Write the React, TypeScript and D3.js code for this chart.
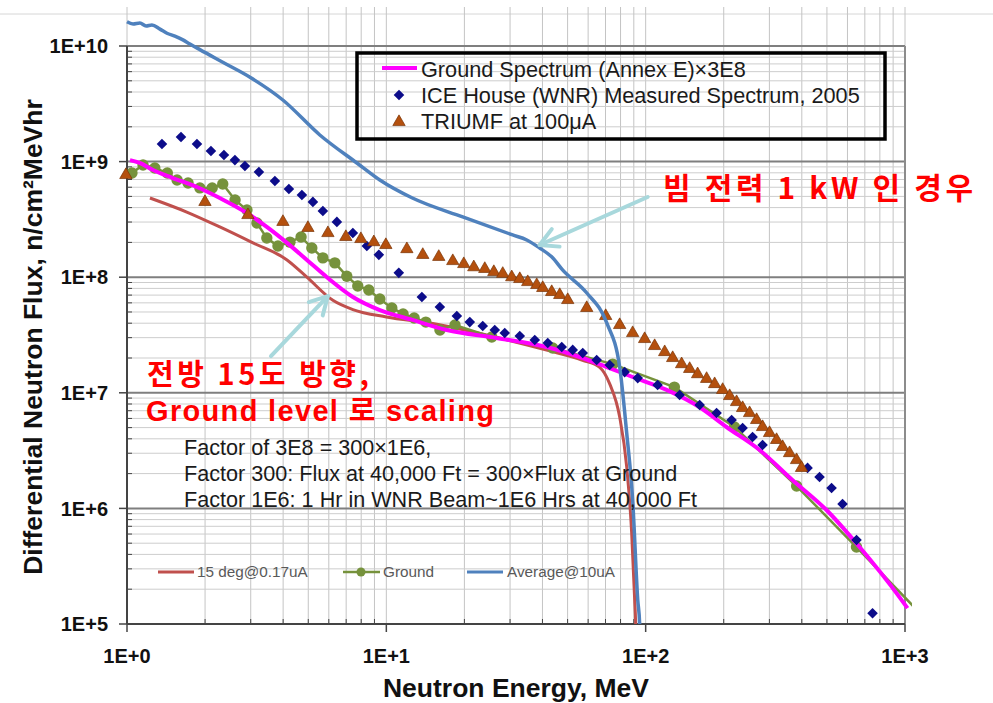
import React from "react";
import * as d3 from "d3";

const W = 993;
const H = 703;
const PLOT = { left: 127, right: 905, top: 46, bottom: 624, gridTop: 7 };

// [energy MeV, flux]
const annexE: [number, number][] = [
  [1.027, 1.03e9], [1.12, 9.73e8], [1.26, 8.45e8], [1.5, 7.21e8], [1.86, 6.03e8],
  [2.28, 4.84e8], [2.9, 3.59e8], [3.46, 2.72e8], [4.14, 1.98e8], [4.94, 1.41e8],
  [5.9, 1.0e8], [7.43, 6.75e7], [9.44, 5.2e7], [12.6, 4.27e7], [17.1, 3.49e7],
  [26.6, 2.98e7], [41.5, 2.49e7], [55.7, 2.04e7], [70.8, 1.67e7], [89.1, 1.37e7],
  [120.5, 1.06e7], [161, 7.53e6], [205, 5.06e6], [275, 3.2e6], [368, 1.76e6],
  [498, 9.68e5], [668, 4.63e5], [952, 1.71e5], [1023, 1.37e5],
];

const average10uA: [number, number][] = [
  [1.0, 1.62e10], [1.055, 1.55e10], [1.122, 1.58e10], [1.184, 1.49e10], [1.248, 1.52e10],
  [1.34, 1.4e10], [1.426, 1.29e10], [1.53, 1.22e10], [1.643, 1.13e10], [1.749, 1.04e10],
  [1.91, 9.3e9], [2.35, 7.2e9], [2.98, 5.37e9], [3.99, 3.41e9], [5.54, 1.7e9], [7.7, 9.73e8],
  [9.44, 6.93e8], [12.6, 4.84e8], [19.7, 3.32e8], [30.7, 2.32e8], [34.8, 2.1e8],
  [39.0, 1.79e8], [43.4, 1.5e8], [47.9, 1.15e8], [59.3, 7.3e7], [70.8, 4.02e7],
  [79.4, 1.67e7], [84.5, 4.49e6], [89.1, 1.18e6], [93.2, 1.62e5], [94.8, 1.0e5], [95.5, 5e4],
];

const deg15: [number, number][] = [
  [1.226, 4.84e8], [1.7, 3.66e8], [2.28, 2.72e8], [3.06, 1.98e8], [4.14, 1.41e8],
  [4.94, 1.0e8], [6.22, 6.31e7], [7.43, 5.25e7], [10.0, 4.53e7], [15.1, 3.98e7],
  [26.6, 3.02e7], [41.5, 2.34e7], [57.1, 1.91e7], [66.5, 1.66e7], [72.6, 1.2e7],
  [79.4, 6.17e6], [84.5, 2.29e6], [88.3, 6.17e5], [90.7, 1.62e5], [91.5, 1.0e5], [92, 5e4],
];

const ground: [number, number][] = [
  [1.045, 7.96e8], [1.153, 9.35e8], [1.28, 8.81e8], [1.43, 7.96e8], [1.56, 6.93e8],
  [1.72, 6.53e8], [1.91, 5.92e8], [2.13, 5.92e8], [2.34, 6.4e8], [2.61, 4.66e8],
  [2.9, 3.81e8], [3.17, 2.94e8], [3.46, 2.18e8], [3.82, 1.86e8], [4.25, 2.01e8],
  [4.69, 2.23e8], [5.16, 1.79e8], [5.69, 1.47e8], [6.33, 1.33e8], [7.04, 1.02e8],
  [7.76, 8.39e7], [8.56, 7.74e7], [9.44, 6.47e7], [10.5, 5.42e7], [11.6, 4.81e7],
  [12.8, 4.44e7], [14.2, 4.09e7], [16.1, 3.49e7], [18.4, 3.86e7], [25.5, 3.04e7],
  [43.8, 2.44e7], [74.6, 1.77e7], [129, 1.12e7], [220, 5.06e6], [382, 1.56e6],
  [650, 4.63e5], [1189, 1.13e5],
];

const iceHouse: [number, number][] = [
  [1.364, 1.42e9], [1.615, 1.63e9], [1.861, 1.42e9], [2.107, 1.235e9], [2.365, 1.14e9],
  [2.607, 1.03e9], [2.849, 9.16e8], [3.226, 8.13e8], [3.718, 6.8e8], [4.21, 5.79e8],
  [4.725, 5.14e8], [5.21, 4.48e8], [5.692, 3.74e8], [6.446, 3.01e8], [7.428, 2.41e8],
  [8.411, 1.86e8], [9.357, 1.56e8], [11.17, 1.09e8], [13.71, 6.74e7], [16.08, 5.52e7],
  [18.7, 4.62e7], [20.98, 4.09e7], [23.54, 3.78e7], [26.19, 3.49e7], [28.62, 3.29e7],
  [32.7, 3.1e7], [37.36, 2.86e7], [41.93, 2.7e7], [47.47, 2.49e7], [52.33, 2.35e7],
  [57.19, 2.21e7], [64.74, 1.92e7], [72.66, 1.74e7], [83.0, 1.51e7], [93.2, 1.34e7],
  [111.2, 1.17e7], [135.2, 9.57e6], [161.5, 7.84e6], [187.7, 6.68e6], [214.5, 5.82e6],
  [236.5, 4.96e6], [258.4, 4.15e6], [282.4, 3.53e6], [421, 2.24e6], [468.3, 1.87e6],
  [521, 1.5e6], [574.3, 1.09e6], [650.3, 5.33e5], [749.6, 1.24e5],
];

const triumf: [number, number][] = [
  [0.99, 7.66e8], [1.998, 4.48e8], [2.926, 3.45e8], [3.993, 3.01e8], [4.984, 2.67e8],
  [5.952, 2.41e8], [6.98, 2.23e8], [7.976, 2.14e8], [8.949, 2.01e8], [9.956, 1.9e8],
  [12.0, 1.75e8], [13.82, 1.56e8], [15.93, 1.5e8], [18.04, 1.38e8], [19.89, 1.3e8],
  [21.74, 1.22e8], [23.97, 1.18e8], [25.97, 1.11e8], [28.11, 1.07e8], [30.45, 1.0e8],
  [32.7, 9.65e7], [35.1, 9.08e7], [38.02, 8.56e7], [40.1, 8.07e7], [43.42, 7.45e7],
  [46.63, 7.02e7], [50.06, 6.35e7], [59.26, 5.42e7], [70.13, 4.62e7], [79.39, 3.86e7],
  [89.1, 3.29e7], [99.1, 2.92e7], [108.3, 2.54e7], [118.4, 2.25e7], [127.1, 2.0e7],
  [137.6, 1.77e7], [147.8, 1.61e7], [158.6, 1.45e7], [171.8, 1.32e7], [184.5, 1.19e7],
  [198.1, 1.06e7], [210.8, 9.38e6], [224.2, 8.32e6], [236.5, 7.39e6], [251.6, 6.68e6],
  [267.8, 5.82e6], [282.4, 5.06e6], [300.4, 4.49e6], [319.7, 3.91e6], [337.3, 3.4e6],
  [358.8, 3.01e6], [381.8, 2.62e6], [399.1, 2.24e6],
];

const xTicks = [1, 10, 100, 1000];
const xTickLabels = ["1E+0", "1E+1", "1E+2", "1E+3"];
const yTicks = [1e5, 1e6, 1e7, 1e8, 1e9, 1e10];
const yTickLabels = ["1E+5", "1E+6", "1E+7", "1E+8", "1E+9", "1E+10"];

const topLegend = [
  "Ground Spectrum (Annex E)×3E8",
  "ICE House (WNR) Measured Spectrum, 2005",
  "TRIUMF at 100μA",
];
const bottomLegend = ["15 deg@0.17uA", "Ground", "Average@10uA"];
const noteLines = [
  "Factor of 3E8 = 300×1E6,",
  "Factor 300: Flux at 40,000 Ft = 300×Flux at Ground",
  "Factor 1E6: 1 Hr in WNR Beam~1E6 Hrs at 40,000 Ft",
];
const beamNote = "빔 전력 1 kW 인 경우";
const fwdNote = ["전방 15도 방향,", "Ground level 로 scaling"];

// arrows in data coords: [tail, tip]
const arrowBeam: [[number, number], [number, number]] = [[101.8, 4.94e8], [39.0, 1.9e8]];
const arrowFwd: [[number, number], [number, number]] = [[3.59, 2.08e7], [5.95, 6.87e7]];

const C = {
  magenta: "#ff00ff",
  blue: "#4f81bd",
  red: "#c0504d",
  green: "#76923c",
  navy: "#0c0c8a",
  tri: "#b4500e",
  arrow: "#a8d8dc",
};

const FONT = "'Liberation Sans', Arial, sans-serif";
const KFONT = "'Noto Sans CJK KR', 'Noto Sans', sans-serif";
const MIXFONT = "'Liberation Sans', 'Noto Sans CJK KR', sans-serif";

export default function App() {
  const xs = d3.scaleLog().domain([1, 1000]).range([PLOT.left, PLOT.right]);
  const ys = d3.scaleLog().domain([1e5, 1e10]).range([PLOT.bottom, PLOT.top]);

  const smooth = d3
    .line<[number, number]>()
    .x((d) => xs(d[0]))
    .y((d) => ys(d[1]))
    .curve(d3.curveMonotoneX);
  const straight = d3
    .line<[number, number]>()
    .x((d) => xs(d[0]))
    .y((d) => ys(d[1]));

  const diamond = d3.symbol(d3.symbolSquare, 56)() as string;
  const triangle = d3.symbol(d3.symbolTriangle, 66)() as string;

  const minorX: number[] = [];
  for (const dec of [1, 10, 100]) for (let k = 1; k <= 9; k++) minorX.push(k * dec);
  minorX.push(1000);
  const minorY: number[] = [];
  for (const dec of [1e5, 1e6, 1e7, 1e8, 1e9]) for (let k = 2; k <= 9; k++) minorY.push(k * dec);

  const arrow = (a: [[number, number], [number, number]], key: string) => {
    const x1 = xs(a[0][0]), y1 = ys(a[0][1]);
    const x2 = xs(a[1][0]), y2 = ys(a[1][1]);
    const ang = Math.atan2(y2 - y1, x2 - x1);
    const L = 20, s = 0.5;
    const p1 = [x2 - L * Math.cos(ang - s), y2 - L * Math.sin(ang - s)];
    const p2 = [x2 - L * Math.cos(ang + s), y2 - L * Math.sin(ang + s)];
    return (
      <g key={key} stroke={C.arrow} strokeWidth={4} fill="none" strokeLinecap="round" strokeLinejoin="round">
        <line x1={x1} y1={y1} x2={x2} y2={y2} />
        <polyline points={`${p1[0]},${p1[1]} ${x2},${y2} ${p2[0]},${p2[1]}`} />
      </g>
    );
  };

  return (
    <div style={{ position: "absolute", left: 0, top: 0 }}>
      <svg width={W} height={H} style={{ display: "block", background: "#fff" }}>
        <defs>
          <clipPath id="plotClip">
            <rect x={118} y={PLOT.gridTop} width={912 - 118} height={PLOT.bottom - PLOT.gridTop} />
          </clipPath>
        </defs>
        <line x1={0} x2={W} y1={14} y2={14} stroke="#d6d6d6" strokeWidth={1} />

        {/* grid */}
        {minorX.map((v, i) => (
          <line key={"gx" + i} x1={xs(v)} x2={xs(v)} y1={PLOT.gridTop} y2={PLOT.bottom} stroke="#c4c4c4" strokeWidth={1} />
        ))}
        {minorY.map((v, i) => (
          <line key={"gy" + i} x1={PLOT.left} x2={PLOT.right} y1={ys(v)} y2={ys(v)} stroke="#cdcdcd" strokeWidth={1} />
        ))}
        {yTicks.slice(1).map((v, i) => (
          <line key={"gmy" + i} x1={PLOT.left} x2={PLOT.right} y1={ys(v)} y2={ys(v)} stroke="#7f7f7f" strokeWidth={2} />
        ))}
        <line x1={PLOT.right} x2={PLOT.right} y1={PLOT.top} y2={PLOT.bottom} stroke="#8c8c8c" strokeWidth={2} />

        {/* axes */}
        <line x1={PLOT.left} x2={PLOT.left} y1={PLOT.top} y2={PLOT.bottom} stroke="#444" strokeWidth={2} />
        <line x1={PLOT.left} x2={PLOT.right} y1={PLOT.bottom} y2={PLOT.bottom} stroke="#444" strokeWidth={2} />
        {yTicks.map((v, i) => (
          <line key={"ty" + i} x1={PLOT.left - 8} x2={PLOT.left} y1={ys(v)} y2={ys(v)} stroke="#444" strokeWidth={1.5} />
        ))}
        {minorY.map((v, i) => (
          <line key={"tmy" + i} x1={PLOT.left} x2={PLOT.left + 5} y1={ys(v)} y2={ys(v)} stroke="#444" strokeWidth={1} />
        ))}
        {xTicks.map((v, i) => (
          <line key={"tx" + i} x1={xs(v)} x2={xs(v)} y1={PLOT.bottom} y2={PLOT.bottom + 8} stroke="#444" strokeWidth={1.5} />
        ))}
        {minorX.filter((v) => ![1, 10, 100, 1000].includes(v)).map((v, i) => (
          <line key={"tmx" + i} x1={xs(v)} x2={xs(v)} y1={PLOT.bottom - 5} y2={PLOT.bottom} stroke="#444" strokeWidth={1} />
        ))}

        {yTicks.map((v, i) => (
          <text key={"ly" + i} x={108} y={ys(v)} dy="0.36em" textAnchor="end" fontFamily={FONT} fontWeight="bold" fontSize={20} fill="#111">
            {yTickLabels[i]}
          </text>
        ))}
        {xTicks.map((v, i) => (
          <text key={"lx" + i} x={xs(v)} y={663} textAnchor="middle" fontFamily={FONT} fontWeight="bold" fontSize={20} fill="#111">
            {xTickLabels[i]}
          </text>
        ))}
        <text x={516} y={697} textAnchor="middle" fontFamily={FONT} fontWeight="bold" fontSize={26.5} fill="#111">
          Neutron Energy, MeV
        </text>
        <text transform="translate(42,337) rotate(-90)" textAnchor="middle" fontFamily={FONT} fontWeight="bold" fontSize={26.5} fill="#111">
          Differential Neutron Flux, n/cm²MeVhr
        </text>

        {/* series */}
        <g clipPath="url(#plotClip)">
          <path d={smooth(deg15) ?? ""} fill="none" stroke={C.red} strokeWidth={3} />
          <path d={straight(ground) ?? ""} fill="none" stroke={C.green} strokeWidth={2.5} />
          {ground.filter((d) => d[0] <= 1000).map((d, i) => (
            <circle key={"gc" + i} cx={xs(d[0])} cy={ys(d[1])} r={5.7} fill={C.green} />
          ))}
          <path d={smooth(annexE) ?? ""} fill="none" stroke={C.magenta} strokeWidth={4} />
          {iceHouse.map((d, i) => (
            <path key={"dm" + i} d={diamond} transform={`translate(${xs(d[0])},${ys(d[1])}) rotate(45)`} fill={C.navy} />
          ))}
          {triumf.map((d, i) => (
            <path key={"tr" + i} d={triangle} transform={`translate(${xs(d[0])},${ys(d[1])})`} fill={C.tri} stroke="#7a3306" strokeWidth={0.7} />
          ))}
          <path d={smooth(average10uA) ?? ""} fill="none" stroke={C.blue} strokeWidth={3.5} />
        </g>

        {/* top legend */}
        <rect x={357} y={53} width={528} height={86} fill="none" stroke="#000" strokeWidth={3.5} />
        <line x1={382} x2={417} y1={68} y2={68} stroke={C.magenta} strokeWidth={4} />
        <path d={diamond} transform="translate(399,95) rotate(45)" fill={C.navy} />
        <path d={triangle} transform="translate(399,122)" fill={C.tri} stroke="#7a3306" strokeWidth={0.7} />
        {topLegend.map((t, i) => (
          <text key={"tl" + i} x={421} y={77 + i * 26} fontFamily={FONT} fontSize={21.7} fill="#1a1a1a">
            {t}
          </text>
        ))}

        {/* bottom legend */}
        <line x1={158} x2={194} y1={572} y2={572} stroke={C.red} strokeWidth={3} />
        <line x1={343} x2={380} y1={572} y2={572} stroke={C.green} strokeWidth={2.5} />
        <circle cx={361} cy={572} r={4.5} fill={C.green} />
        <line x1={467} x2={503} y1={572} y2={572} stroke={C.blue} strokeWidth={3} />
        {bottomLegend.map((t, i) => (
          <text key={"bl" + i} x={[197, 383, 507][i]} y={577} fontFamily={FONT} fontSize={15.3} fill="#595959">
            {t}
          </text>
        ))}

        {/* notes */}
        {noteLines.map((t, i) => (
          <text key={"nt" + i} x={184} y={455 + i * 26} fontFamily={FONT} fontSize={21.6} fill="#1a1a1a">
            {t}
          </text>
        ))}

        {arrow(arrowBeam, "a1")}
        {arrow(arrowFwd, "a2")}

        <text x={663} y={199} fontFamily={KFONT} fontWeight="bold" fontSize={30} fill="#ff0000" textLength={310} lengthAdjust="spacing">
          {beamNote}
        </text>
        <text x={147} y={385} fontFamily={KFONT} fontWeight="bold" fontSize={29} fill="#ff0000" textLength={222} lengthAdjust="spacing">
          {fwdNote[0]}
        </text>
        <text x={146} y={421} fontFamily={MIXFONT} fontWeight="bold" fontSize={29} fill="#ff0000" textLength={348} lengthAdjust="spacing">
          {fwdNote[1]}
        </text>
      </svg>
    </div>
  );
}
